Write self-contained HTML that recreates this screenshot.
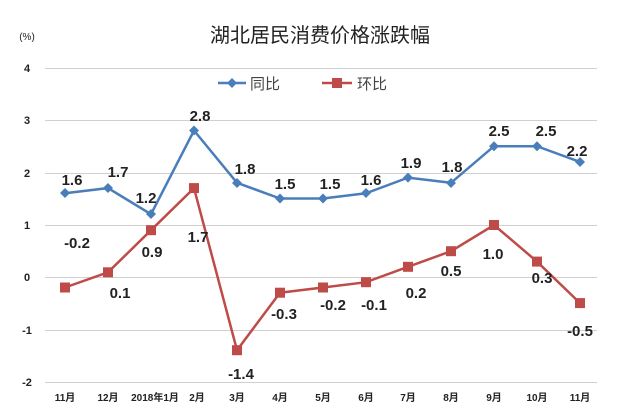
<!DOCTYPE html><html><head><meta charset="utf-8"><style>body{margin:0;background:#fff}</style></head><body>
<svg width="640" height="411" xmlns="http://www.w3.org/2000/svg" font-family="Liberation Sans, Noto Sans CJK SC, sans-serif">
<rect width="640" height="411" fill="#fff"/>
<text x="320" y="42" text-anchor="middle" font-size="20" fill="#222" font-family="Noto Sans CJK SC, sans-serif">湖北居民消费价格涨跌幅</text>
<text x="27" y="40" text-anchor="middle" font-size="10" fill="#222">(%)</text>
<g stroke="#d0d0d0" stroke-width="1">
<line x1="45" x2="597" y1="68.5" y2="68.5"/><line x1="45" x2="597" y1="120.5" y2="120.5"/><line x1="45" x2="597" y1="173.5" y2="173.5"/><line x1="45" x2="597" y1="225.5" y2="225.5"/><line x1="45" x2="597" y1="277.5" y2="277.5"/><line x1="45" x2="597" y1="330.5" y2="330.5"/><line x1="45" x2="597" y1="382.5" y2="382.5"/>
</g>
<g font-size="11" font-weight="bold" fill="#222" text-anchor="middle">
<text x="27" y="72">4</text><text x="27" y="124">3</text><text x="27" y="177">2</text><text x="27" y="229">1</text><text x="27" y="281">0</text><text x="27" y="334">-1</text><text x="27" y="386">-2</text>
</g>
<g font-size="10" font-weight="bold" fill="#222" text-anchor="middle" font-family="Liberation Sans, Noto Sans CJK SC, sans-serif">
<text x="65" y="401">11月</text><text x="108" y="401">12月</text><text x="155" y="401">2018年1月</text><text x="197" y="401">2月</text><text x="237" y="401">3月</text><text x="280" y="401">4月</text><text x="323" y="401">5月</text><text x="366" y="401">6月</text><text x="408" y="401">7月</text><text x="451" y="401">8月</text><text x="494" y="401">9月</text><text x="537" y="401">10月</text><text x="580" y="401">11月</text>
</g>
<!-- legend -->
<line x1="218" x2="246" y1="83" y2="83" stroke="#4a7ebb" stroke-width="2.5"/><path d="M232 78l5 5-5 5-5-5z" fill="#4a7ebb"/>
<text x="250" y="89" font-size="15" fill="#444" font-family="Noto Sans CJK SC, sans-serif">同比</text>
<line x1="322" x2="352" y1="83" y2="83" stroke="#be4b48" stroke-width="2.5"/><rect x="332" y="78" width="10" height="10" fill="#be4b48"/>
<text x="357" y="89" font-size="15" fill="#444" font-family="Noto Sans CJK SC, sans-serif">环比</text>
<!-- blue -->
<polyline fill="none" stroke="#4a7ebb" stroke-width="2.5" points="65,193.3 108,188.1 151,214.2 194,130.5 237,182.8 280,198.5 323,198.5 366,193.3 408,177.6 451,182.8 494,146.2 537,146.2 580,161.9"/>
<g fill="#4a7ebb">
<path d="M65 188l5 5-5 5-5-5z"/><path d="M108 183l5 5-5 5-5-5z"/><path d="M151 209l5 5-5 5-5-5z"/><path d="M194 125.5l5 5-5 5-5-5z"/><path d="M237 178l5 5-5 5-5-5z"/><path d="M280 193.5l5 5-5 5-5-5z"/><path d="M323 193.5l5 5-5 5-5-5z"/><path d="M366 188l5 5-5 5-5-5z"/><path d="M408 172.6l5 5-5 5-5-5z"/><path d="M451 178l5 5-5 5-5-5z"/><path d="M494 141.2l5 5-5 5-5-5z"/><path d="M537 141.2l5 5-5 5-5-5z"/><path d="M580 157l5 5-5 5-5-5z"/>
</g>
<!-- red -->
<polyline fill="none" stroke="#be4b48" stroke-width="2.5" points="65,287.5 108,272.3 151,230.2 194,188.1 237,350.2 280,292.7 323,287.5 366,282.2 408,266.8 451,251.2 494,225 537,261.6 580,303.1"/>
<g fill="#be4b48">
<rect x="60" y="282.5" width="10" height="10"/><rect x="103" y="267.3" width="10" height="10"/><rect x="146" y="225.2" width="10" height="10"/><rect x="189" y="183.1" width="10" height="10"/><rect x="232" y="345.2" width="10" height="10"/><rect x="275" y="287.7" width="10" height="10"/><rect x="318" y="282.5" width="10" height="10"/><rect x="361" y="277.2" width="10" height="10"/><rect x="403" y="261.8" width="10" height="10"/><rect x="446" y="246.2" width="10" height="10"/><rect x="489" y="220" width="10" height="10"/><rect x="532" y="256.6" width="10" height="10"/><rect x="575" y="298.1" width="10" height="10"/>
</g>
<g font-size="15" font-weight="bold" fill="#222" text-anchor="middle">
<text x="72" y="185">1.6</text><text x="118" y="177">1.7</text><text x="146" y="203">1.2</text><text x="200" y="121">2.8</text><text x="245" y="174">1.8</text><text x="285" y="189">1.5</text><text x="330" y="189">1.5</text><text x="371" y="185">1.6</text><text x="411" y="168">1.9</text><text x="452" y="172">1.8</text><text x="499" y="136">2.5</text><text x="546" y="136">2.5</text><text x="577" y="156">2.2</text>
<text x="77" y="248">-0.2</text><text x="120" y="298">0.1</text><text x="152" y="257">0.9</text><text x="198" y="242">1.7</text><text x="241" y="379">-1.4</text><text x="284" y="319">-0.3</text><text x="333" y="310">-0.2</text><text x="374" y="310">-0.1</text><text x="416" y="298">0.2</text><text x="451" y="276">0.5</text><text x="493" y="259">1.0</text><text x="542" y="283">0.3</text><text x="580" y="336">-0.5</text>
</g>
</svg>
</body></html>
